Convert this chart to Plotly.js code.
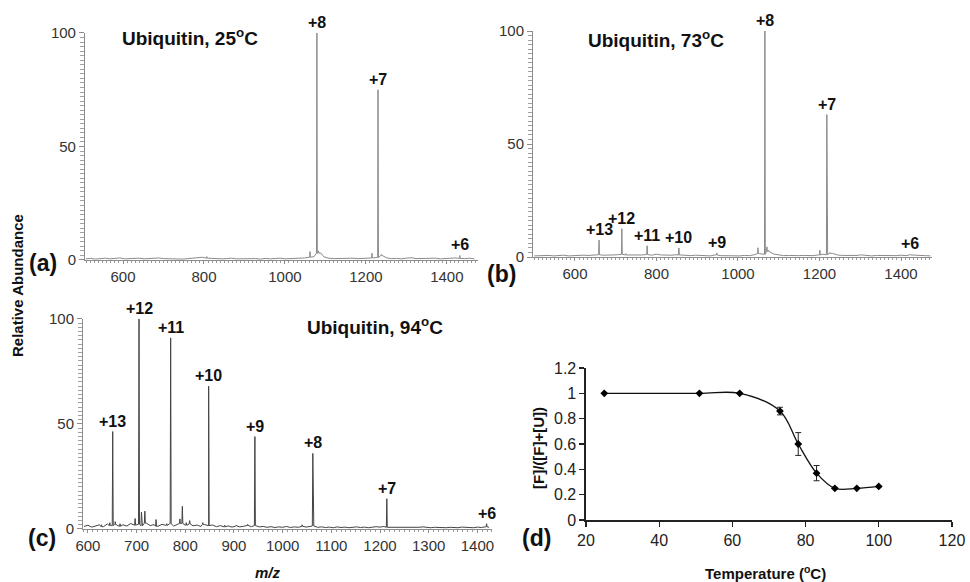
<!DOCTYPE html>
<html>
<head>
<meta charset="utf-8">
<script src="https://cdn.plot.ly/plotly-3.0.1.min.js"></script>
<style>html,body{margin:0;padding:0;background:#fff;}#chart{width:970px;height:582px;}</style>
</head>
<body>
<div id="chart"></div>
<script>
// ---------- Panel (a): Ubiquitin 25 C ----------
const peaksA_mz = [1079, 1230, 1432];
const peaksA_int = [100, 75, 2];
const peaksA_lab = ['+8', '+7', '+6'];
const minorA_mz = [1062, 1083, 1088, 1215, 1238, 807, 1313];
const minorA_int = [3.7, 4, 3, 3, 2.5, 1.5, 1];
const baseA_start = 508, baseA_step = 12;
const baseA = [0.5,0.7,0.4,0.6,0.8,0.5,0.6,0.9,0.5,0.7,0.6,0.8,0.5,0.7,0.6,0.9,0.6,0.5,0.7,0.6,
  0.4,0.6,0.8,0.9,1.2,0.8,0.6,0.7,0.5,0.6,0.8,0.5,0.6,0.7,0.5,0.6,0.4,0.7,0.5,0.6,
  0.8,0.5,0.6,0.7,0.5,0.9,1.2,1.5,3.0,1.4,0.8,0.6,0.7,0.5,0.6,0.8,0.6,0.7,1.0,0.9,
  1.1,2.0,0.9,0.6,0.7,0.5,0.8,1.0,0.6,0.7,0.5,0.6,0.8,0.5,0.7,0.6,0.9,0.7,0.6,0.8,0.5];

// ---------- Panel (b): Ubiquitin 73 C ----------
const peaksB_mz = [659, 715, 777, 855, 948, 1066, 1218, 1422];
const peaksB_int = [7.5, 12.5, 5, 4, 1.8, 100, 63, 1.2];
const peaksB_lab = ['+13', '+12', '+11', '+10', '+9', '+8', '+7', '+6'];
const minorB_mz = [1049, 1071, 1075, 1201, 1226, 800, 725, 1300];
const minorB_int = [4.1, 4.5, 3, 3, 2, 1.5, 1.5, 1];
const baseB_start = 500, baseB_step = 12;
const baseB = [0.5,0.6,0.4,0.7,0.5,0.6,0.8,0.5,0.7,0.6,0.8,0.7,0.9,1.0,0.8,0.7,0.9,1.0,1.2,0.9,
  0.8,0.7,0.9,1.1,0.8,1.2,0.9,0.7,0.8,1.0,0.9,0.7,0.6,0.8,0.6,0.7,0.5,0.9,0.6,0.5,
  0.7,0.6,0.5,0.7,0.6,1.0,1.5,1.2,2.5,1.3,0.8,0.6,0.7,0.5,0.6,0.7,0.5,0.6,0.9,1.2,
  1.0,1.6,0.9,0.7,0.6,0.5,0.7,0.9,0.6,0.5,0.7,0.6,0.5,0.7,0.6,0.8,0.6,0.9,0.7,0.5,0.6,0.5];

// ---------- Panel (c): Ubiquitin 94 C ----------
const peaksC_mz = [651, 705, 770, 848, 943, 1062, 1214, 1419];
const peaksC_int = [46.4, 100, 91, 68, 44, 36, 14.4, 2.5];
const peaksC_lab = ['+13', '+12', '+11', '+10', '+9', '+8', '+7', '+6'];
const minorC_mz = [628, 645, 656, 666, 697, 710, 717, 740, 762, 789, 794, 802, 809, 836, 881, 905, 928, 1040];
const minorC_int = [2, 3, 3.5, 2.5, 5, 8, 8.5, 4.5, 2.5, 4.8, 10.8, 3, 4, 3, 1.8, 1.8, 2.2, 2];
const baseC_start = 592, baseC_step = 8;
const baseC = [1.2,1.8,0.9,1.5,2.0,1.1,2.4,1.6,2.2,1.3,2.0,1.4,2.6,1.8,2.3,1.5,2.8,1.6,2.1,1.3,
  2.2,1.7,2.5,1.4,2.0,2.6,1.8,2.4,1.5,1.9,1.2,2.1,1.6,1.9,1.1,1.6,1.0,1.5,0.9,1.4,
  1.0,1.3,1.7,1.1,1.6,1.0,1.2,0.8,1.1,0.7,1.0,0.8,1.2,0.7,1.0,0.8,1.3,0.9,1.1,1.4,
  0.8,1.0,0.7,0.9,0.6,1.0,0.7,0.9,0.6,0.8,1.0,0.7,0.9,0.6,0.8,1.1,0.9,1.2,0.8,0.7,
  0.9,0.6,0.8,0.7,0.9,0.6,0.8,1.0,0.7,0.6,0.8,0.7,0.9,0.6,0.8,0.7,0.6,0.9,0.7,0.8,
  0.6,0.9,0.7,1.0,0.8];

// ---------- Panel (d): melting curve ----------
const tempC = [25, 51, 62, 73, 78, 83, 88, 94, 100];
const fracF = [1.0, 1.0, 1.0, 0.86, 0.60, 0.37, 0.25, 0.25, 0.265];
const fracErr = [0, 0, 0, 0.03, 0.09, 0.06, 0, 0, 0];
const tempTicks = [20, 40, 60, 80, 100, 120];
const fracTicks = [0, 0.2, 0.4, 0.6, 0.8, 1, 1.2];
const fracTickText = ['0', '0.2', '0.4', '0.6', '0.8', '1', '1.2'];
const spectraTicksX = [600, 800, 1000, 1200, 1400];
const spectraTicksXc = [600, 700, 800, 900, 1000, 1100, 1200, 1300, 1400];
const spectraTicksY = [0, 50, 100];

// Build a stick spectrum (baseline + narrow peaks) from the arrays above
function buildSpectrum(start, step, base, pkX, pkY) {
  const pts = base.map((v, i) => [start + i * step, v]);
  const baseAt = x => base[Math.max(0, Math.min(base.length - 1, Math.round((x - start) / step)))];
  for (let i = 0; i < pkX.length; i++) {
    const b = baseAt(pkX[i]);
    pts.push([pkX[i] - 1, b], [pkX[i], pkY[i]], [pkX[i] + 1, b]);
  }
  pts.sort((a, b) => a[0] - b[0]);
  return { x: pts.map(p => p[0]), y: pts.map(p => p[1]) };
}

const sA = buildSpectrum(baseA_start, baseA_step, baseA, peaksA_mz.concat(minorA_mz), peaksA_int.concat(minorA_int));
const sB = buildSpectrum(baseB_start, baseB_step, baseB, peaksB_mz.concat(minorB_mz), peaksB_int.concat(minorB_int));
const sC = buildSpectrum(baseC_start, baseC_step, baseC, peaksC_mz.concat(minorC_mz), peaksC_int.concat(minorC_int));

const FONT = 'Liberation Sans, Arial, Helvetica, sans-serif';

const traces = [
  { type: 'scatter', mode: 'lines', x: sA.x, y: sA.y, xaxis: 'x', yaxis: 'y',
    line: { color: '#8a8a8a', width: 1 }, hoverinfo: 'skip' },
  { type: 'scatter', mode: 'lines', x: sB.x, y: sB.y, xaxis: 'x2', yaxis: 'y2',
    line: { color: '#8a8a8a', width: 1 }, hoverinfo: 'skip' },
  { type: 'scatter', mode: 'lines', x: sC.x, y: sC.y, xaxis: 'x3', yaxis: 'y3',
    line: { color: '#444444', width: 1 }, hoverinfo: 'skip' },
  { type: 'scatter', mode: 'lines+markers', x: tempC, y: fracF, xaxis: 'x4', yaxis: 'y4',
    line: { color: '#111', width: 1.3, shape: 'spline', smoothing: 1 },
    marker: { color: '#000', size: 6, symbol: 'diamond' },
    error_y: { type: 'data', array: fracErr, visible: true, color: '#222', thickness: 1, width: 3 } }
];

function specX(domain, range, ticks) {
  return { domain: domain, range: range, tickvals: ticks, showgrid: false, zeroline: false,
    showline: true, linecolor: '#8c8c8c', linewidth: 1, ticks: 'outside', ticklen: 3, tickcolor: '#8c8c8c',
    minor: { ticks: 'outside', ticklen: 2, dtick: 10, tickcolor: '#999', showgrid: false },
    tickfont: { family: FONT, size: 15, color: '#333' } };
}
function specY(domain) {
  return { domain: domain, range: [0, 100], tickvals: spectraTicksY, showgrid: false, zeroline: false,
    showline: true, linecolor: '#8c8c8c', linewidth: 1, ticks: 'outside', ticklen: 5, tickcolor: '#8c8c8c',
    minor: { ticks: 'outside', ticklen: 4, dtick: 2, tickcolor: '#a0a0a0', showgrid: false },
    tickfont: { family: FONT, size: 15, color: '#333' } };
}

const ax1 = specX([0.0876, 0.4928], [506, 1477], spectraTicksX); ax1.anchor = 'y';
const ay1 = specY([0.5533, 0.9433]); ay1.anchor = 'x';
const ax2 = specX([0.5495, 0.9608], [497, 1476], spectraTicksX); ax2.anchor = 'y2';
const ay2 = specY([0.5584, 0.9467]); ay2.anchor = 'x2';
const ax3 = specX([0.0856, 0.5072], [590, 1430], spectraTicksXc); ax3.anchor = 'y3';
const ay3 = specY([0.0911, 0.4519]); ay3.anchor = 'x3';

const annotations = [];
function peakLabels(xs, ys, labs, xr, yr) {
  for (let i = 0; i < xs.length; i++) {
    annotations.push({ xref: xr, yref: yr, x: xs[i], y: ys[i], text: '<b>' + labs[i] + '</b>',
      showarrow: false, yanchor: 'bottom', xanchor: 'center', yshift: 0,
      font: { family: FONT, size: 16, color: '#111' } });
  }
}
peakLabels(peaksA_mz, peaksA_int, peaksA_lab, 'x', 'y');
peakLabels(peaksB_mz, peaksB_int, peaksB_lab, 'x2', 'y2');
peakLabels(peaksC_mz, peaksC_int, peaksC_lab, 'x3', 'y3');

function paperText(x, y, text, size, extra) {
  annotations.push(Object.assign({ xref: 'paper', yref: 'paper', x: x, y: y, text: text, showarrow: false,
    xanchor: 'center', yanchor: 'middle', font: { family: FONT, size: size, color: '#111' } }, extra || {}));
}
paperText(0.1959, 0.9364, '<b>Ubiquitin, 25<sup>o</sup>C</b>', 19);
paperText(0.6768, 0.9330, '<b>Ubiquitin, 73<sup>o</sup>C</b>', 19);
paperText(0.3866, 0.4399, '<b>Ubiquitin, 94<sup>o</sup>C</b>', 19);
paperText(0.0443, 0.5480, '<b>(a)</b>', 23);
paperText(0.5165, 0.5290, '<b>(b)</b>', 23);
paperText(0.0433, 0.0756, '<b>(c)</b>', 23);
paperText(0.5536, 0.0756, '<b>(d)</b>', 23);
paperText(0.0175, 0.5103, '<b>Relative Abundance</b>', 15, { textangle: -90 });
paperText(0.2763, 0.0155, '<b><i>m/z</i></b>', 15);
paperText(0.7887, 0.0155, '<b>Temperature (<sup>o</sup>C)</b>', 15);
paperText(0.5546, 0.2302, '<b>[F]/([F]+[U])</b>', 15, { textangle: -90 });

const layout = {
  width: 970, height: 582, margin: { l: 0, r: 0, t: 0, b: 0 },
  paper_bgcolor: '#fff', plot_bgcolor: 'rgba(0,0,0,0)', showlegend: false,
  font: { family: FONT },
  xaxis: ax1, yaxis: ay1, xaxis2: ax2, yaxis2: ay2, xaxis3: ax3, yaxis3: ay3,
  xaxis4: { domain: [0.6041, 0.9814], anchor: 'y4', range: [20, 120], tickvals: tempTicks,
    showgrid: false, zeroline: false, showline: true, linecolor: '#222', linewidth: 1.5,
    ticks: 'outside', ticklen: 5, tickcolor: '#222', tickwidth: 1.3,
    tickfont: { family: FONT, size: 16, color: '#222' } },
  yaxis4: { domain: [0.1065, 0.3677], anchor: 'x4', range: [0, 1.2], tickvals: fracTicks, ticktext: fracTickText,
    showgrid: false, zeroline: false, showline: true, linecolor: '#222', linewidth: 1.5,
    ticks: 'outside', ticklen: 5, tickcolor: '#222', tickwidth: 1.3,
    tickfont: { family: FONT, size: 16, color: '#222' } },
  annotations: annotations
};

Plotly.newPlot('chart', traces, layout, { staticPlot: true, displayModeBar: false });
</script>
</body>
</html>
